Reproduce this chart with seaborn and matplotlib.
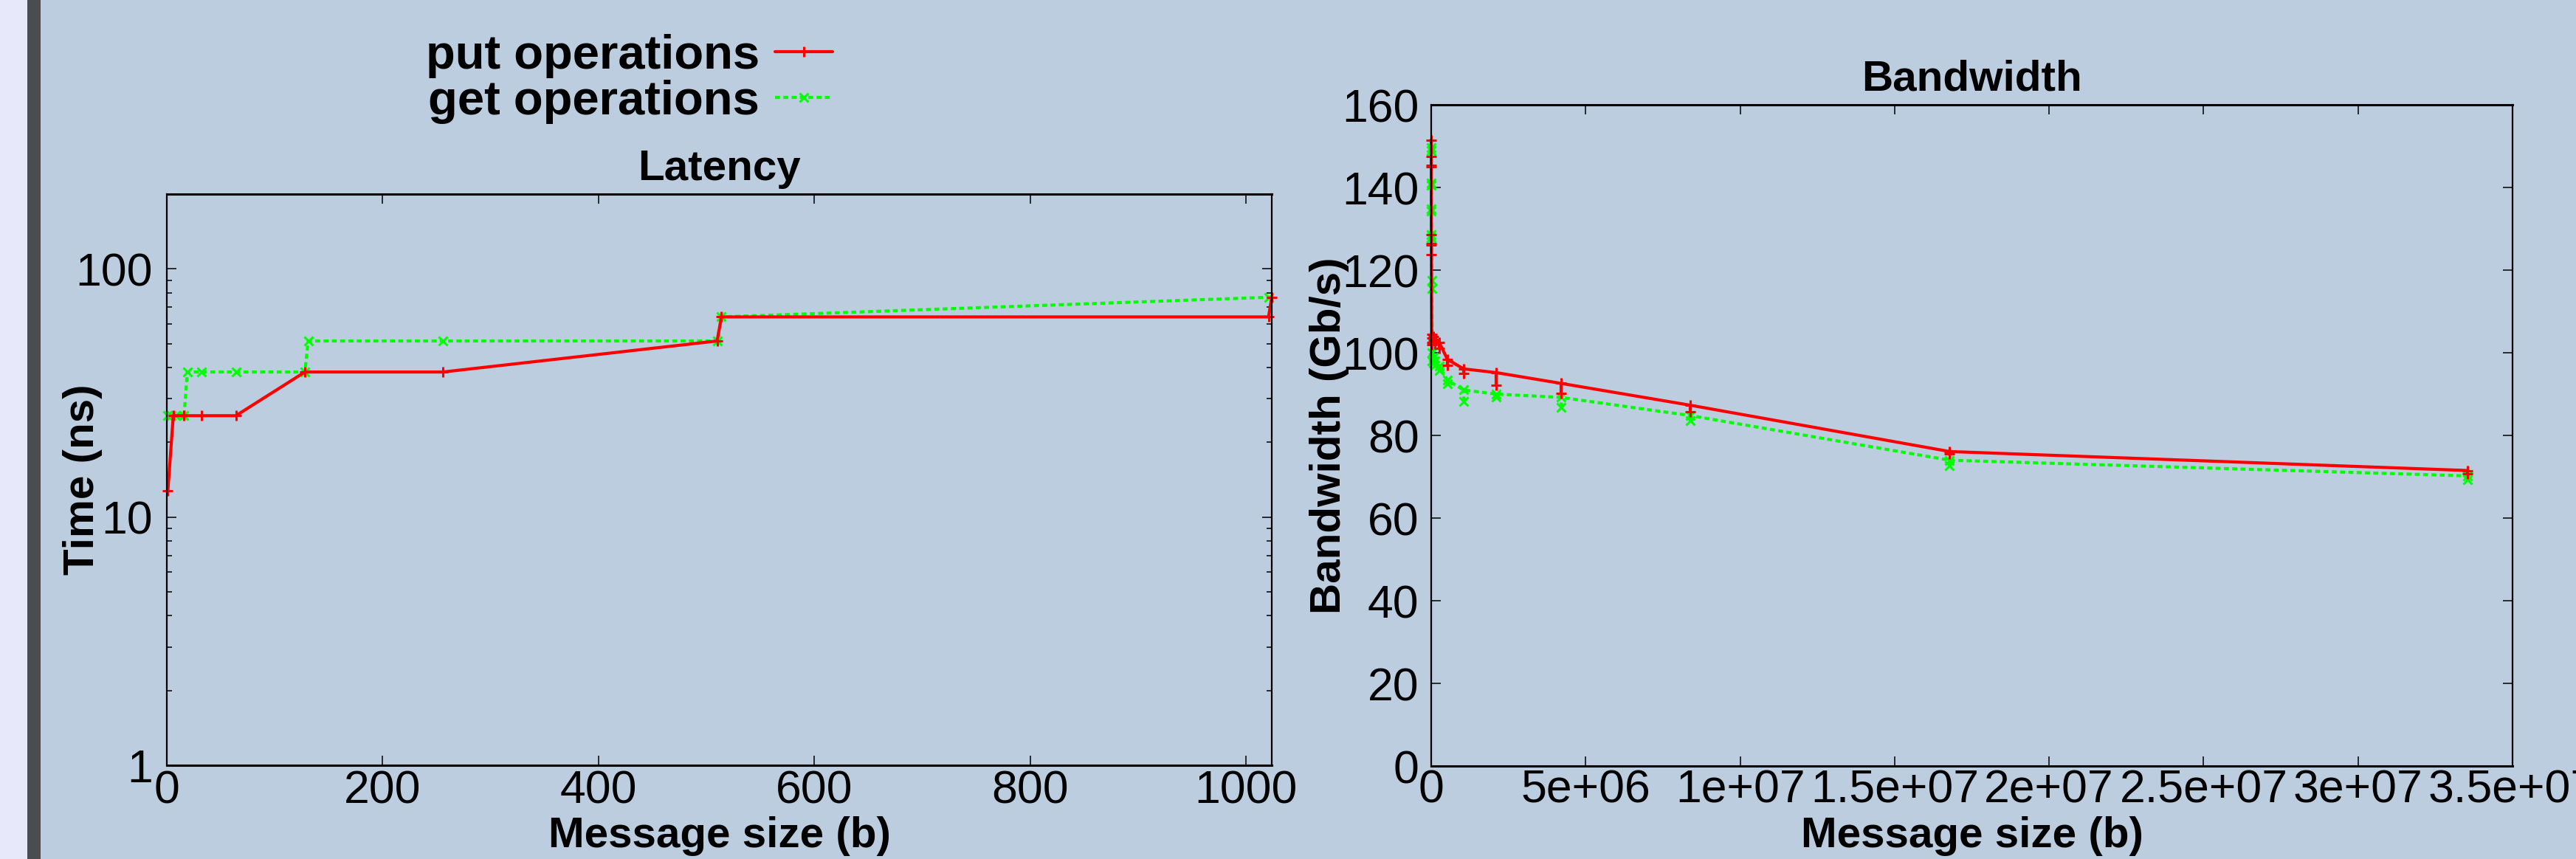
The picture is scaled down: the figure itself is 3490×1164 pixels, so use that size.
import numpy as np
import pandas as pd
import matplotlib
matplotlib.use("Agg")
import matplotlib.pyplot as plt
import seaborn as sns
from matplotlib.ticker import FixedLocator, FixedFormatter, LogLocator, NullFormatter
from matplotlib.patches import Rectangle

# ---------------- data ----------------
lat_put_size = [1, 6, 16, 32, 64, 128, 256, 510, 514, 1021, 1024]
lat_put_ns = [12.8, 25.6, 25.6, 25.6, 25.6, 38.4, 38.4, 51.2, 64.0, 64.0, 76.8]
lat_get_size = [1, 4, 8, 16, 19, 32, 64, 128, 131, 256, 510, 514, 1021]
lat_get_ns = [25.6, 25.6, 25.6, 25.6, 38.4, 38.4, 38.4, 38.4, 51.2, 51.2, 51.2, 64.0, 76.8]

bw_size = [1024, 2048, 4096, 8192, 16384, 32768, 65536, 131072, 262144, 524288,
           1048576, 2097152, 4194304, 8388608, 16777216, 33554432]
bw_put_gbps = [151.5, 145.3, 128.5, 126.5, 104.5, 103.5, 104.0, 103.2, 102.5, 98.4,
               96.1, 95.2, 92.6, 87.3, 76.1, 71.5]
bw_put_low = [147.5, 145.0, 126.0, 123.8, 102.5, 102.0, 103.0, 102.2, 101.0, 97.0,
              95.0, 92.2, 90.1, 85.7, 75.5, 70.8]
bw_get_gbps = [149.6, 141.0, 134.8, 128.6, 117.5, 100.0, 99.0, 98.0, 96.7, 93.4,
               91.0, 90.0, 89.2, 84.8, 74.0, 70.2]
bw_get_low = [149.0, 140.5, 134.2, 127.8, 115.5, 98.0, 97.5, 97.0, 95.8, 92.5,
              88.3, 89.2, 86.8, 83.6, 72.6, 69.3]

series_names = ["put operations", "get operations"]
titles = ["Latency", "Bandwidth"]
lat_xticks = [0, 200, 400, 600, 800, 1000]
lat_xticklabels = ["0", "200", "400", "600", "800", "1000"]
lat_yticks = [1, 10, 100]
lat_yticklabels = ["1", "10", "100"]
bw_xticks = [0, 5e6, 1e7, 1.5e7, 2e7, 2.5e7, 3e7, 3.5e7]
bw_xticklabels = ["0", "5e+06", "1e+07", "1.5e+07", "2e+07", "2.5e+07", "3e+07", "3.5e+07"]
bw_yticks = [0, 20, 40, 60, 80, 100, 120, 140, 160]
bw_yticklabels = ["0", "20", "40", "60", "80", "100", "120", "140", "160"]

# ---------------- style ----------------
sns.set_theme(style="ticks")
plt.rcParams["font.family"] = ["Liberation Sans", "DejaVu Sans"]
plt.rcParams["text.color"] = "black"
plt.rcParams["axes.labelcolor"] = "black"
plt.rcParams["xtick.color"] = "black"
plt.rcParams["ytick.color"] = "black"

BG = "#bccde0"
LAV = "#e8e8fb"
GRAY = "#4b4c50"
RED = "#ff0000"
GREEN = "#00ff00"
LW = 3.0
DASH = (0, (1.6, 1.1))
TICK_FS = 45
LAB_FS = 42
LEG_FS = 47
W, H = 3490, 1164

fig = plt.figure(figsize=(W / 100, H / 100), dpi=100, facecolor=BG)
fig.patches.append(Rectangle((0, 0), 37 / W, 1, transform=fig.transFigure,
                             facecolor=LAV, edgecolor="none", zorder=0))
fig.patches.append(Rectangle((37 / W, 0), 18 / W, 1, transform=fig.transFigure,
                             facecolor=GRAY, edgecolor="none", zorder=0))

ax1 = fig.add_axes([226 / W, 1 - 1037 / H, (1723 - 226) / W, (1037 - 263) / H])
ax2 = fig.add_axes([1939 / W, 1 - 1038 / H, (3404 - 1939) / W, (1038 - 142) / H])

for ax in (ax1, ax2):
    ax.set_facecolor("none")
    for side, sp in ax.spines.items():
        sp.set_visible(True)
        sp.set_color("black")
        sp.set_linewidth(2.2 if side in ("top", "bottom") else 1.6)
        sp.set_zorder(5)

# ---------------- latency ----------------
df_lp = pd.DataFrame({"size": lat_put_size, "ns": lat_put_ns})
df_lg = pd.DataFrame({"size": lat_get_size, "ns": lat_get_ns})
sns.lineplot(data=df_lp, x="size", y="ns", ax=ax1, sort=False, estimator=None,
             color=RED, lw=LW, marker="+", ms=10, mew=2.2, mec=RED,
             label=series_names[0], clip_on=False, zorder=4)
sns.lineplot(data=df_lg, x="size", y="ns", ax=ax1, sort=False, estimator=None,
             color=GREEN, lw=LW, linestyle=DASH, marker="x", ms=8, mew=2.2, mec=GREEN,
             label=series_names[1], clip_on=False, zorder=3)
ax1.set_yscale("log")
ax1.set_xlim(0, 1024)
ax1.set_ylim(1, 200)
ax1.xaxis.set_major_locator(FixedLocator(lat_xticks))
ax1.xaxis.set_major_formatter(FixedFormatter(lat_xticklabels))
ax1.yaxis.set_major_locator(FixedLocator(lat_yticks))
ax1.yaxis.set_major_formatter(FixedFormatter(lat_yticklabels))
ax1.yaxis.set_minor_locator(LogLocator(base=10, subs=np.arange(2, 10)))
ax1.yaxis.set_minor_formatter(NullFormatter())
ax1.set_title(titles[0], fontsize=LAB_FS, fontweight="bold", pad=14, color="black")
ax1.set_xlabel("Message size (b)", fontsize=LAB_FS, fontweight="bold", color="black")
ax1.set_ylabel("Time (ns)", fontsize=LAB_FS, fontweight="bold", color="black")
ax1.xaxis.set_label_coords(0.5, -0.089)
ax1.yaxis.set_label_coords(-0.058, 0.5)
ax1.tick_params(axis="y", which="major", pad=14)
ax1.tick_params(axis="x", which="major", pad=4.3)

# ---------------- bandwidth ----------------
df_bp = pd.DataFrame({"size": bw_size, "gbps": bw_put_gbps})
df_bg = pd.DataFrame({"size": bw_size, "gbps": bw_get_gbps})
ax2.vlines(bw_size, bw_get_low, bw_get_gbps, colors=GREEN, lw=LW, linestyles=[DASH], zorder=3)
ax2.plot(bw_size, bw_get_low, ls="none", marker="x", ms=8, mew=2.2, color=GREEN, zorder=3,
         clip_on=False)
sns.lineplot(data=df_bg, x="size", y="gbps", ax=ax2, sort=False, estimator=None,
             color=GREEN, lw=LW, linestyle=DASH, marker="x", ms=8, mew=2.2, mec=GREEN,
             clip_on=False, zorder=3)
ax2.vlines(bw_size, bw_put_low, bw_put_gbps, colors=RED, lw=LW, zorder=4)
ax2.plot(bw_size, bw_put_low, ls="none", marker="+", ms=10, mew=2.2, color=RED, zorder=4,
         clip_on=False)
sns.lineplot(data=df_bp, x="size", y="gbps", ax=ax2, sort=False, estimator=None,
             color=RED, lw=LW, marker="+", ms=10, mew=2.2, mec=RED,
             clip_on=False, zorder=4)
ax2.set_xlim(0, 3.5e7)
ax2.set_ylim(0, 160)
ax2.xaxis.set_major_locator(FixedLocator(bw_xticks))
ax2.xaxis.set_major_formatter(FixedFormatter(bw_xticklabels))
ax2.yaxis.set_major_locator(FixedLocator(bw_yticks))
ax2.yaxis.set_major_formatter(FixedFormatter(bw_yticklabels))
ax2.set_title(titles[1], fontsize=LAB_FS, fontweight="bold", pad=14, color="black")
ax2.set_xlabel("Message size (b)", fontsize=LAB_FS, fontweight="bold", color="black")
ax2.set_ylabel("Bandwidth (Gb/s)", fontsize=LAB_FS, fontweight="bold", color="black")
ax2.xaxis.set_label_coords(0.5, -0.076)
ax2.yaxis.set_label_coords(-0.076, 0.5)
ax2.tick_params(axis="y", which="major", pad=11.8)
ax2.tick_params(axis="x", which="major", pad=2.5)

for ax in (ax1, ax2):
    ax.tick_params(which="both", direction="in", top=True, right=True,
                   colors="black", labelcolor="black", labelsize=TICK_FS, width=1.1)
    ax.tick_params(which="major", length=9.4)
    ax.tick_params(which="minor", length=4.7)
    for lab in ax.get_xticklabels() + ax.get_yticklabels():
        lab.set_clip_on(False)

# ---------------- legend ----------------
handles, labels = ax1.get_legend_handles_labels()
leg = ax1.legend(handles, labels, loc="center right",
                 bbox_to_anchor=(1128 / W, 1 - 107 / H), bbox_transform=fig.transFigure,
                 frameon=False, markerfirst=False, borderpad=0, borderaxespad=0,
                 handlelength=1.2, handletextpad=0.32, labelspacing=0.03, numpoints=1,
                 prop={"size": LEG_FS, "weight": "bold"})
for t in leg.get_texts():
    t.set_color("black")

fig.savefig("out.png", dpi=100, facecolor=BG)
